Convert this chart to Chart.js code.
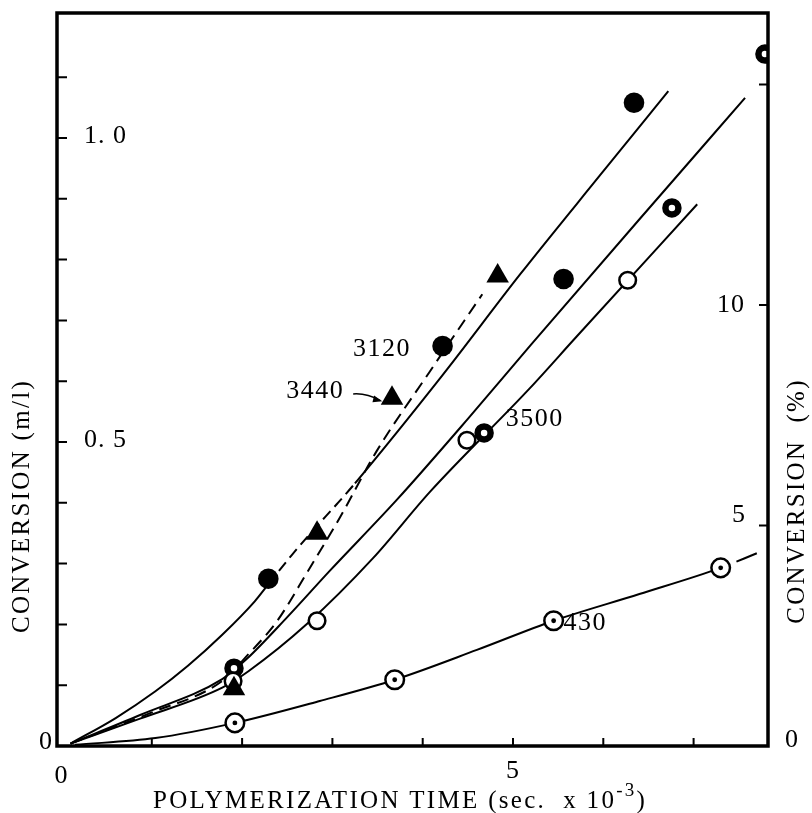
<!DOCTYPE html>
<html>
<head>
<meta charset="utf-8">
<script src="https://cdn.jsdelivr.net/npm/chart.js@4.4.0/dist/chart.umd.min.js"></script>
<style>
  html, body { margin: 0; padding: 0; background: #fff; }
</style>
</head>
<body>
<canvas id="conversionChart" width="812" height="813"></canvas>
<script>
"use strict"

// polymerization time (sec x 10^-3) and conversion (m/l)

// drawn curves
const curve3120Time = [0.10, 0.60, 1.04, 1.40, 1.78, 2.14, 2.29, 2.55, 2.80, 3.05, 3.25, 4.22, 5.08, 5.96, 6.72];
const curve3120Conv = [0.004, 0.046, 0.090, 0.132, 0.183, 0.238, 0.266, 0.314, 0.357, 0.398, 0.432, 0.610, 0.776, 0.938, 1.077];

const curve3440Time = [0.10, 0.98, 1.78, 2.07, 2.39, 2.73, 3.08, 3.49, 4.07, 4.66];
const curve3440Conv = [0.004, 0.054, 0.107, 0.151, 0.206, 0.288, 0.375, 0.485, 0.614, 0.743];

const curveMidTime = [0.10, 0.87, 1.78, 2.05, 2.50, 2.97, 3.72, 4.50, 5.20, 6.41, 7.57];
const curveMidConv = [0.004, 0.051, 0.110, 0.143, 0.212, 0.288, 0.406, 0.538, 0.660, 0.868, 1.066];

const curve3500Time = [0.10, 0.87, 1.78, 2.07, 2.72, 3.45, 4.08, 5.19, 5.69, 7.04];
const curve3500Conv = [0.004, 0.045, 0.096, 0.123, 0.201, 0.309, 0.418, 0.589, 0.671, 0.891];

const curve430Time = [0.15, 1.04, 1.92, 2.86, 3.69, 4.60, 5.45, 6.40, 7.30, 7.70];
const curve430Conv = [0.002, 0.013, 0.038, 0.074, 0.109, 0.158, 0.206, 0.250, 0.293, 0.317];

// measured points
const filledTime = [2.29, 4.22, 5.56, 6.34];
const filledConv = [0.275, 0.658, 0.768, 1.058];

const triangleTime = [1.91, 2.83, 3.66, 4.83];
const triangleConv = [0.094, 0.350, 0.572, 0.773];

const openTime = [1.90, 2.83, 4.49, 6.27];
const openConv = [0.107, 0.206, 0.503, 0.766];

const ringTime = [1.91, 4.68, 6.76, 7.79];
const ringConv = [0.128, 0.515, 0.885, 1.138];

const dotTime = [1.92, 3.69, 5.45, 7.30];
const dotConv = [0.038, 0.109, 0.206, 0.293];

// axes
const timeTicks = [1, 2, 3, 4, 5, 6, 7];
const timeLabelValues = [0, 5];
const convTicks = [0.1, 0.2, 0.3, 0.4, 0.5, 0.6, 0.7, 0.8, 0.9, 1.0, 1.1];
const convLabelValues = [0, 0.5, 1.0];
const convLabelTexts = ["0", "0. 5", "1. 0"];
const percentTicks = [5, 10, 15];
const percentLabelValues = [0, 5, 10];

// curve labels
const curveLabels = ["3120", "3440", "3500", "430"];
const curveLabelTime = [3.55, 2.81, 5.24, 5.80];
const curveLabelConv = [0.653, 0.584, 0.538, 0.202];

const FONT = "'Liberation Serif', 'Times New Roman', serif";

function pts(xs, ys) {
    return xs.map((x, i) => ({x: x, y: ys[i]}));
}

function curve(xs, ys, extra) {
    return Object.assign({
        data: pts(xs, ys),
        showLine: true,
        borderColor: "#000",
        borderWidth: 2,
        pointRadius: 0,
        cubicInterpolationMode: "monotone",
        order: 2
    }, extra || {});
}

function marker(xs, ys, extra) {
    return Object.assign({
        data: pts(xs, ys),
        showLine: false,
        pointStyle: "circle",
        pointBackgroundColor: "#fff",
        pointBorderColor: "#000",
        pointBorderWidth: 2.5,
        pointRadius: 8.3,
        order: 1
    }, extra || {});
}

function spacing(ctx, px) {
    if ("letterSpacing" in ctx) ctx.letterSpacing = px + "px";
}

const paperAxes = {
    id: "paperAxes",
    afterDraw(chart) {
        const ctx = chart.ctx;
        const a = chart.chartArea;
        const xs = chart.scales.x;
        const ys = chart.scales.y;
        const ps = chart.scales.y2;

        ctx.save();
        ctx.strokeStyle = "#000";
        ctx.fillStyle = "#000";

        // frame
        ctx.lineWidth = 3.5;
        ctx.strokeRect(a.left, a.top, a.right - a.left, a.bottom - a.top);

        // inward ticks
        ctx.lineWidth = 2;
        ctx.beginPath();
        convTicks.forEach(v => {
            const y = ys.getPixelForValue(v);
            ctx.moveTo(a.left, y);
            ctx.lineTo(a.left + 10, y);
        });
        timeTicks.forEach(v => {
            const x = xs.getPixelForValue(v);
            ctx.moveTo(x, a.bottom);
            ctx.lineTo(x, a.bottom - 8);
        });
        percentTicks.forEach(v => {
            const y = ps.getPixelForValue(v);
            ctx.moveTo(a.right, y);
            ctx.lineTo(a.right - 9, y);
        });
        ctx.stroke();

        // tick labels
        ctx.font = "26px " + FONT;
        spacing(ctx, 1);
        ctx.textBaseline = "middle";
        convLabelValues.forEach((v, i) => {
            const y = ys.getPixelForValue(v);
            if (v === 0) {
                ctx.textAlign = "right";
                ctx.fillText(convLabelTexts[i], a.left - 4, y - 4);
            } else {
                ctx.textAlign = "left";
                ctx.fillText(convLabelTexts[i], a.left + 27, y - 2);
            }
        });
        ctx.textAlign = "center";
        timeLabelValues.forEach(v => {
            const x = xs.getPixelForValue(v);
            ctx.fillText(String(v), x, a.bottom + (v === 0 ? 30 : 25));
        });
        percentLabelValues.forEach(v => {
            const y = ps.getPixelForValue(v);
            if (v === 0) {
                ctx.textAlign = "left";
                ctx.fillText("0", a.right + 17, y - 6);
            } else {
                ctx.textAlign = "right";
                ctx.fillText(String(v), a.right - (v === 5 ? 22 : 23), y - (v === 5 ? 10 : 0));
            }
        });

        // curve labels
        ctx.font = "26px " + FONT;
        spacing(ctx, 1.5);
        ctx.textAlign = "center";
        curveLabels.forEach((t, i) => {
            ctx.fillText(t, xs.getPixelForValue(curveLabelTime[i]), ys.getPixelForValue(curveLabelConv[i]));
        });
        spacing(ctx, 0);

        // arrow from 3440 to its triangle
        const ax0 = xs.getPixelForValue(3.23), ay0 = ys.getPixelForValue(0.579);
        const ax1 = xs.getPixelForValue(3.53), ay1 = ys.getPixelForValue(0.568);
        ctx.lineWidth = 1.5;
        ctx.beginPath();
        ctx.moveTo(ax0, ay0);
        ctx.quadraticCurveTo((ax0 + ax1) / 2, ay0 - 1, ax1, ay1);
        ctx.stroke();
        const ang = Math.atan2(ay1 - ay0, ax1 - ax0);
        ctx.beginPath();
        ctx.moveTo(ax1 + 2, ay1 + 0.5);
        ctx.lineTo(ax1 - 8 * Math.cos(ang - 0.45), ay1 - 8 * Math.sin(ang - 0.45));
        ctx.lineTo(ax1 - 8 * Math.cos(ang + 0.45), ay1 - 8 * Math.sin(ang + 0.45));
        ctx.closePath();
        ctx.fill();

        // axis titles
        const big = "25px " + FONT;
        const small = "19px " + FONT;
        ctx.textBaseline = "alphabetic";
        ctx.font = big;
        spacing(ctx, 2.3);
        const t1 = "POLYMERIZATION TIME (sec.  x 10";
        const t2 = "-3";
        const t3 = ")";
        const w1 = ctx.measureText(t1).width;
        ctx.font = small;
        const w2 = ctx.measureText(t2).width;
        ctx.font = big;
        const w3 = ctx.measureText(t3).width;
        let tx = xs.getPixelForValue(3.75) - (w1 + w2 + w3) / 2;
        const ty = a.bottom + 62;
        ctx.textAlign = "left";
        ctx.fillText(t1, tx, ty);
        tx += w1;
        ctx.font = small;
        ctx.fillText(t2, tx, ty - 12);
        tx += w2;
        ctx.font = big;
        ctx.fillText(t3, tx, ty);

        ctx.textAlign = "center";
        ctx.save();
        ctx.translate(29, a.bottom - 240);
        ctx.rotate(-Math.PI / 2);
        ctx.fillText("CONVERSION (m/l)", 0, 0);
        ctx.restore();

        ctx.save();
        ctx.translate(a.right + 36, a.bottom - 245);
        ctx.rotate(-Math.PI / 2);
        ctx.fillText("CONVERSION  (%)", 0, 0);
        ctx.restore();

        ctx.restore();
    }
};

const conversionChart = new Chart(
    document.querySelector("#conversionChart"),
    {
        type: "scatter",
        data: {
            datasets: [
                curve(curve3120Time, curve3120Conv, {
                    segment: {
                        borderDash: c => (c.p0.parsed.x >= 2.28 && c.p1.parsed.x <= 3.26) ? [11, 6] : undefined
                    }
                }),
                curve(curve3440Time, curve3440Conv, {borderDash: [12, 7]}),
                curve(curveMidTime, curveMidConv),
                curve(curve3500Time, curve3500Conv),
                curve(curve430Time, curve430Conv, {
                    segment: {
                        borderDash: c => c.p0.parsed.x >= 7.2 ? [10, 7, 24, 60] : undefined
                    }
                }),
                marker(filledTime, filledConv, {pointBackgroundColor: "#000", pointBorderWidth: 0, pointRadius: 10.3}),
                marker(triangleTime, triangleConv, {pointStyle: "triangle", pointBackgroundColor: "#000", pointBorderWidth: 0, pointRadius: 13}),
                marker(openTime, openConv),
                marker(ringTime, ringConv, {pointBorderWidth: 6.5, pointRadius: 6.5}),
                marker(dotTime, dotConv, {pointRadius: 9.3}),
                marker(dotTime, dotConv, {pointBackgroundColor: "#000", pointBorderWidth: 0, pointRadius: 2.4, order: 0})
            ]
        },
        options: {
            responsive: false,
            animation: false,
            devicePixelRatio: 1,
            layout: {padding: {left: 57, right: 44, top: 12, bottom: 67}},
            plugins: {legend: {display: false}, tooltip: {enabled: false}},
            scales: {
                x: {type: "linear", display: false, min: -0.05, max: 7.824},
                y: {type: "linear", display: false, min: 0, max: 1.2056},
                y2: {type: "linear", display: false, position: "right", min: 0, max: 16.62}
            }
        },
        plugins: [paperAxes]
    }
);
</script>
</body>
</html>
